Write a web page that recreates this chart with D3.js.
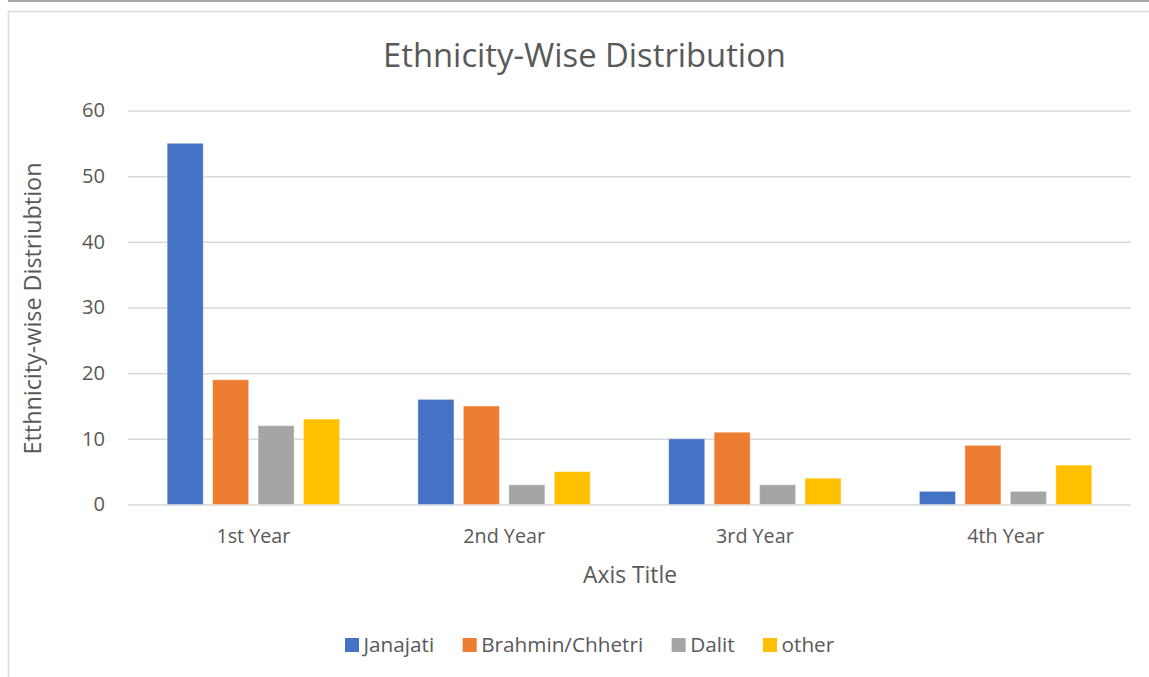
<!DOCTYPE html>
<html><head><meta charset="utf-8">
<script src="https://cdn.jsdelivr.net/npm/d3@7"></script>
<style>
body{margin:0;background:#fff}
svg{display:block}
text{font-family:"Open Sans",sans-serif;fill:#595959}
</style></head>
<body><svg id="c" width="1149" height="677"></svg>
<script>
const categories = ["1st Year", "2nd Year", "3rd Year", "4th Year"];
const seriesNames = ["Janajati", "Brahmin/Chhetri", "Dalit", "other"];
const janajati = [55, 16, 10, 2];
const brahminChhetri = [19, 15, 11, 9];
const dalit = [12, 3, 3, 2];
const other = [13, 5, 4, 6];
const yTicks = [0, 10, 20, 30, 40, 50, 60];
const colors = ["#4472c4", "#ed7d31", "#a5a5a5", "#ffc000"];

const seriesValues = [janajati, brahminChhetri, dalit, other];
const svg = d3.select("#c");

function fit(sel, target) {
  sel.style("font-size", "20px");
  const w = sel.node().getComputedTextLength();
  return 20 * target / w;
}

// frame
svg.append("rect").attr("x", 8).attr("y", 0).attr("width", 1141).attr("height", 2).attr("fill", "#a6a6a6");
svg.append("rect").attr("x", 8.5).attr("y", 11.5).attr("width", 1160).attr("height", 700)
  .attr("fill", "none").attr("stroke", "#d9d9d9").attr("stroke-width", 1.5);

const L = 128, R = 1131, T = 110.5, B = 504.5;
const y = d3.scaleLinear().domain([0, 60]).range([B, T]);
const x0 = d3.scaleBand().domain(categories).range([L, R]).padding(0);
const x1 = d3.scaleBand().domain(seriesNames)
  .range([39.2, x0.bandwidth() - 39.2]).paddingInner(0.208).paddingOuter(0);

const probe = svg.append("text").text("60");
const tickFs = fit(probe, 23);
probe.remove();

// y axis with gridlines
const yAxis = svg.append("g").attr("transform", `translate(${L},0)`)
  .call(d3.axisLeft(y).tickValues(yTicks).tickSize(-(R - L)).tickPadding(23));
yAxis.select(".domain").remove();
yAxis.selectAll(".tick line").attr("stroke", "#d9d9d9").attr("stroke-width", 1.5);
yAxis.selectAll(".tick text").attr("fill", "#595959").style("font-size", tickFs + "px")
  .style("font-family", '"Open Sans",sans-serif');

// bars
const data = [];
categories.forEach((c, i) => seriesNames.forEach((s, j) => data.push({c, s, j, v: seriesValues[j][i]})));
svg.append("g").selectAll("rect").data(data).join("rect")
  .attr("x", d => x0(d.c) + x1(d.s))
  .attr("y", d => y(d.v))
  .attr("width", x1.bandwidth())
  .attr("height", d => B - y(d.v))
  .attr("fill", d => colors[d.j])
  .attr("stroke", "#ffffff").attr("stroke-opacity", 0.35).attr("stroke-width", 1);

// x axis labels
const xAxis = svg.append("g").attr("transform", `translate(0,${B})`)
  .call(d3.axisBottom(x0).tickSize(0));
xAxis.select(".domain").remove();
const xp = svg.append("text").text("1st Year");
const xFs = fit(xp, 74);
xp.remove();
xAxis.selectAll(".tick text").attr("y", 38.5).attr("dy", null).attr("fill", "#595959")
  .style("font-size", xFs + "px").style("font-family", '"Open Sans",sans-serif');

// title
const title = svg.append("text").text("Ethnicity-Wise Distribution")
  .attr("x", 584.5).attr("y", 67).attr("text-anchor", "middle");
title.style("font-size", fit(title, 403) + "px");

// axis titles
const xt = svg.append("text").text("Axis Title").attr("x", 630).attr("y", 583).attr("text-anchor", "middle");
xt.style("font-size", fit(xt, 94) + "px");
const yt = svg.append("text").text("Etthnicity-wise Distriubtion")
  .attr("transform", "translate(41,308.5) rotate(-90)").attr("text-anchor", "middle");
yt.style("font-size", fit(yt, 292) + "px");

// legend
const lp = svg.append("text").text("Brahmin/Chhetri");
const legFs = fit(lp, 162);
lp.remove();
let lx = 345;
seriesNames.forEach((s, j) => {
  svg.append("rect").attr("x", lx).attr("y", 638).attr("width", 14).attr("height", 14).attr("fill", colors[j]);
  const t = svg.append("text").text(s).attr("x", lx + 18.5).attr("y", 652).style("font-size", legFs + "px");
  lx += 18.5 + t.node().getComputedTextLength() + 28.5;
});
</script></body></html>
